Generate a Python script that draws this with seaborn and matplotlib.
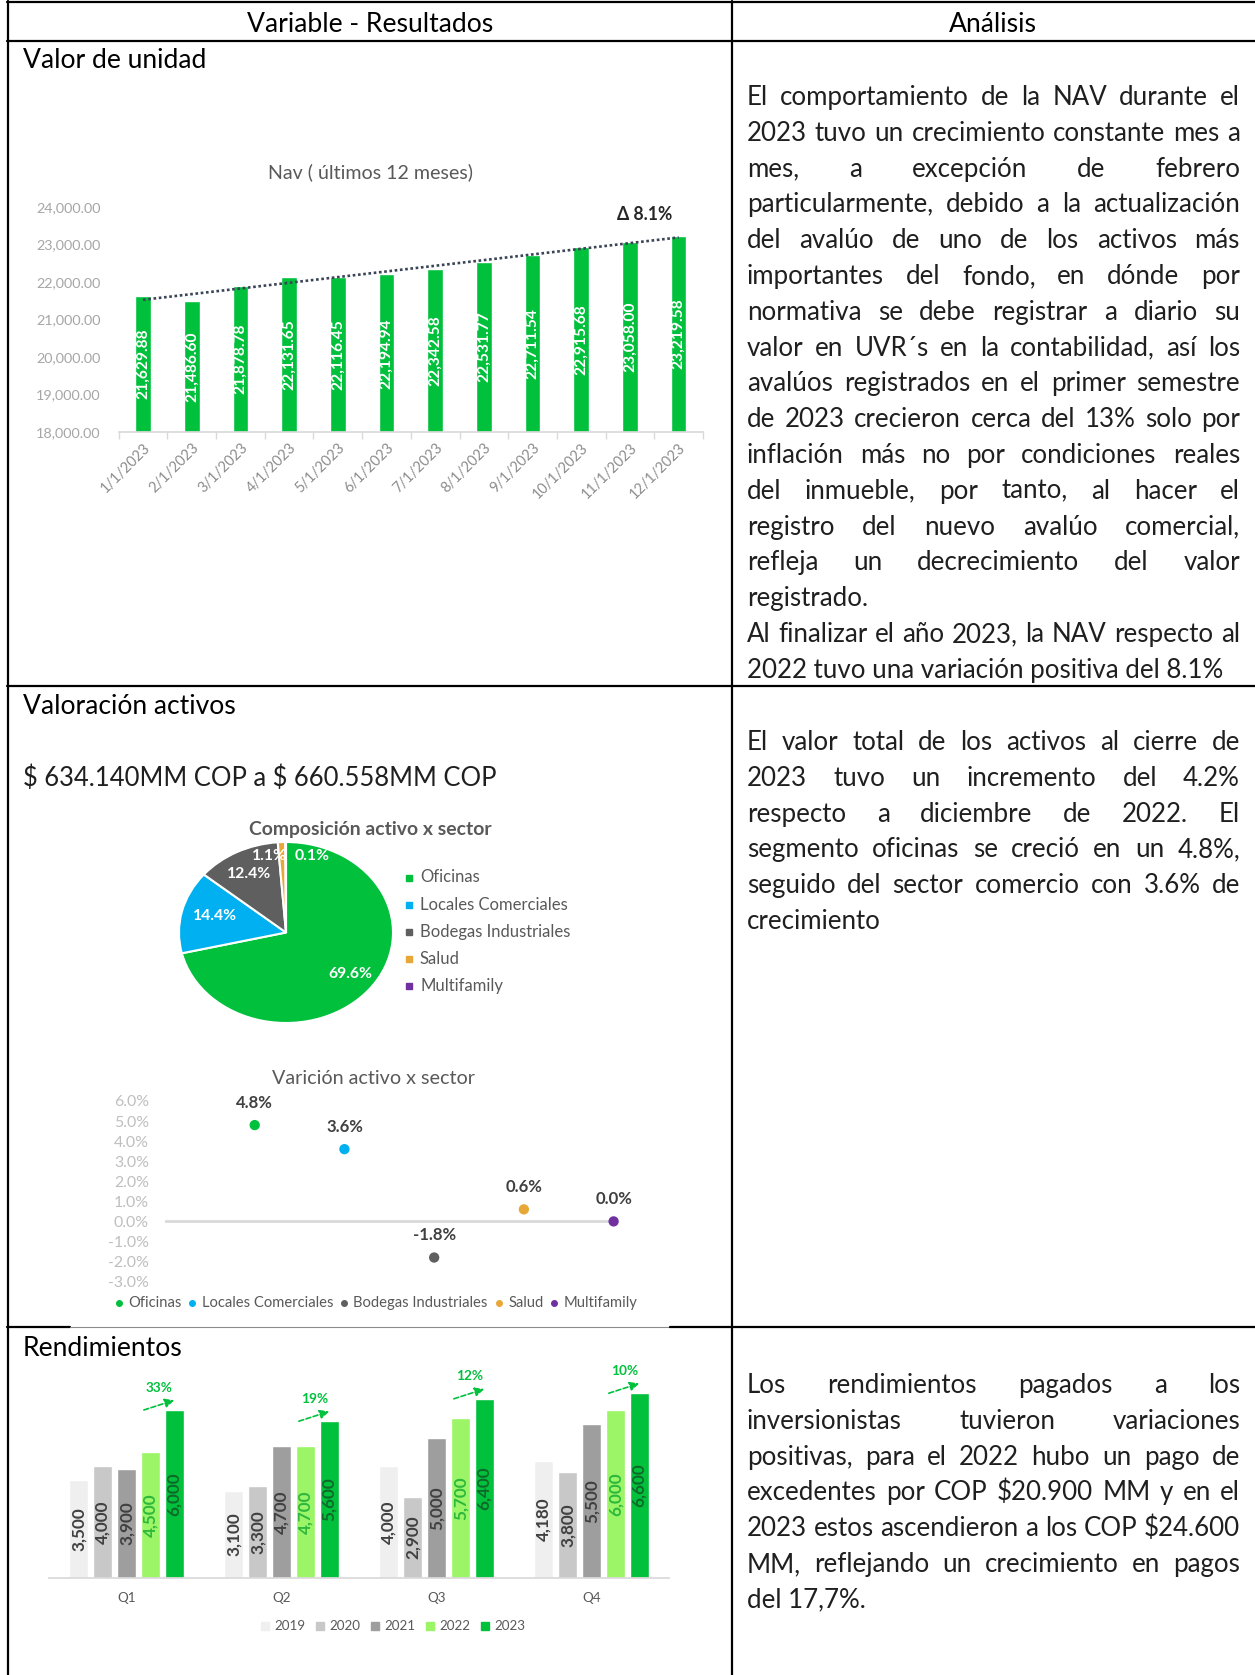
import numpy as np
import pandas as pd
import seaborn as sns
import matplotlib.pyplot as plt
from matplotlib.lines import Line2D

W, H = 1255, 1675

# ---------------- data ----------------
nav_dates = ['1/1/2023', '2/1/2023', '3/1/2023', '4/1/2023', '5/1/2023', '6/1/2023',
             '7/1/2023', '8/1/2023', '9/1/2023', '10/1/2023', '11/1/2023', '12/1/2023']
nav_values = [21629.88, 21486.60, 21878.78, 22131.65, 22116.45, 22194.94,
              22342.58, 22531.77, 22711.54, 22915.68, 23058.00, 23219.58]
nav_change = 8.1

sectors = ['Oficinas', 'Locales Comerciales', 'Bodegas Industriales', 'Salud', 'Multifamily']
sector_share = [69.6, 14.4, 12.4, 1.1, 0.1]
sector_change = [4.8, 3.6, -1.8, 0.6, 0.0]

quarters = ['Q1', 'Q2', 'Q3', 'Q4']
years = ['2019', '2020', '2021', '2022', '2023']
rend_2019 = [3500, 3100, 4000, 4180]
rend_2020 = [4000, 3300, 2900, 3800]
rend_2021 = [3900, 4700, 5000, 5500]
rend_2022 = [4500, 4700, 5700, 6000]
rend_2023 = [6000, 5600, 6400, 6600]

text_nav = [
    'El comportamiento de la NAV durante el',
    '2023 tuvo un crecimiento constante mes a',
    'mes, a excepción de febrero',
    'particularmente, debido a la actualización',
    'del avalúo de uno de los activos más',
    'importantes del fondo, en dónde por',
    'normativa se debe registrar a diario su',
    'valor en UVR´s en la contabilidad, así los',
    'avalúos registrados en el primer semestre',
    'de 2023 crecieron cerca del 13% solo por',
    'inflación más no por condiciones reales',
    'del inmueble, por tanto, al hacer el',
    'registro del nuevo avalúo comercial,',
    'refleja un decrecimiento del valor',
    'registrado.',
    'Al finalizar el año 2023, la NAV respecto al',
    '2022 tuvo una variación positiva del 8.1%',
]
nav_ends = {14, 16}
text_activos = [
    'El valor total de los activos al cierre de',
    '2023 tuvo un incremento del 4.2%',
    'respecto a diciembre de 2022. El',
    'segmento oficinas se creció en un 4.8%,',
    'seguido del sector comercio con 3.6% de',
    'crecimiento',
]
activos_ends = {5}
text_rend = [
    'Los rendimientos pagados a los',
    'inversionistas tuvieron variaciones',
    'positivas, para el 2022 hubo un pago de',
    'excedentes por COP $20.900 MM y en el',
    '2023 estos ascendieron a los COP $24.600',
    'MM, reflejando un crecimiento en pagos',
    'del 17,7%.',
]
rend_ends = {6}

# ---------------- style ----------------
GREEN = '#00C03C'
sector_colors = [GREEN, '#00B0F0', '#5F5F5F', '#E8A838', '#7030A0']
year_colors = ['#EFEFEF', '#C8C8C8', '#9E9E9E', '#9BF567', GREEN]
year_label_colors = ['#404040', '#404040', '#404040', '#2DB83D', '#0E6B2A']
DARK = '#595959'
BODY = '#1F1F1F'

sns.set_theme(style='white')
plt.rcParams['font.family'] = ['Lato', 'DejaVu Sans']
plt.rcParams['text.parse_math'] = False

fig = plt.figure(figsize=(W / 100, H / 100), dpi=100)
renderer = fig.canvas.get_renderer()


def fx(x):
    return x / W


def fy(y):
    return 1 - y / H


def add_ax(x0, y0, x1, y1):
    return fig.add_axes([x0 / W, 1 - y1 / H, (x1 - x0) / W, (y1 - y0) / H])


def tw(s, size, weight='normal'):
    t = fig.text(0, 0, s, fontsize=size, fontweight=weight)
    w = t.get_window_extent(renderer).width
    t.remove()
    return w


def fit(s, target, weight='normal'):
    return 20 * target / tw(s, 20, weight)


def hline(y, x0, x1, color='black', lw=1.6):
    fig.add_artist(Line2D([fx(x0), fx(x1)], [fy(y), fy(y)], color=color, lw=lw))


def vline(x, y0, y1, lw=1.6):
    fig.add_artist(Line2D([fx(x), fx(x)], [fy(y0), fy(y1)], color='black', lw=lw))


def legend_row(labels, colors, x, y, size, marker, ms, gap_text, gap_item):
    for lab, c in zip(labels, colors):
        fig.add_artist(Line2D([fx(x)], [fy(y)], marker=marker, ms=ms, color=c, ls='none'))
        fig.text(fx(x + gap_text), fy(y), lab, fontsize=size, color=DARK, va='center')
        x += gap_text + tw(lab, size) + gap_item


# ---------------- table frame ----------------
hline(2, 7, W)
hline(40.5, 7, W)
hline(686, 7, W)
hline(1327, 7, 70)
hline(1327, 70, 670, color='#8C8C8C', lw=0.8)
hline(1327, 670, W)
vline(8, 1, H)
vline(731.5, 1, H)

titles = ['Variable - Resultados', 'Análisis', 'Valor de unidad', 'Valoración activos', 'Rendimientos']
title_w = [246, 86.5, 184, 213.5, 162]
fs_title = np.mean([fit(t, w) for t, w in zip(titles, title_w)])
fig.text(fx(370), fy(31.5), 'Variable - Resultados', fontsize=fs_title, ha='center', va='baseline', color='black')
fig.text(fx(993), fy(31.5), 'Análisis', fontsize=fs_title, ha='center', va='baseline', color='black')
fig.text(fx(23), fy(68), 'Valor de unidad', fontsize=fs_title, va='baseline', color='black')
fig.text(fx(23), fy(714), 'Valoración activos', fontsize=fs_title, va='baseline', color='black')
fig.text(fx(23), fy(1356), 'Rendimientos', fontsize=fs_title, va='baseline', color='black')
money = '$ 634.140MM COP a $ 660.558MM COP'
fig.text(fx(23), fy(786), money, fontsize=fit(money, 473), va='baseline', color=BODY)

# ---------------- justified analysis text ----------------
TX0, TX1 = 747, 1240
LINE_H = 35.8
fs_body = min(fit(l, TX1 - TX0) for l in text_nav + text_activos + text_rend)


def paragraph(lines, ends, y0):
    for i, line in enumerate(lines):
        y = fy(y0 + i * LINE_H)
        if i in ends:
            fig.text(fx(TX0), y, line, fontsize=fs_body, color=BODY, va='baseline')
            continue
        words = line.split()
        widths = [tw(w, fs_body) for w in words]
        gap = (TX1 - TX0 - sum(widths)) / (len(words) - 1)
        x = TX0
        for w, wd in zip(words, widths):
            fig.text(fx(x), y, w, fontsize=fs_body, color=BODY, va='baseline')
            x += wd + gap


paragraph(text_nav, nav_ends, 105)
paragraph(text_activos, activos_ends, 750)
paragraph(text_rend, rend_ends, 1393)

# ---------------- NAV bar chart ----------------
ax1 = add_ax(118.7, 206.7, 703, 432)
sns.barplot(x=nav_dates, y=nav_values, color=GREEN, width=0.32, saturation=1, ax=ax1)
idx = np.arange(len(nav_values))
coef = np.polyfit(idx, nav_values, 1)
ax1.plot(idx, np.polyval(coef, idx), ls=(0, (1, 1.0)), color='#3A4456', lw=1.9)
ax1.bar_label(ax1.containers[0], labels=[f'{v:,.2f}' for v in nav_values], label_type='center',
              rotation=90, color='white', fontweight='bold', fontsize=fit('21,629.88', 70, 'bold'))
ax1.set_ylim(18000, 24000)
ax1.set_xlim(-0.5, len(nav_values) - 0.5)
yt = np.arange(18000, 24001, 1000)
ax1.set_yticks(yt)
ax1.set_yticklabels([f'{v:,.2f}' for v in yt])
ax1.set_xticks(idx)
ax1.set_xticklabels(nav_dates, rotation=45, ha='right', rotation_mode='anchor')
ax1.set_xticks(np.arange(-0.5, len(nav_values)), minor=True)
ax1.tick_params(axis='y', length=0, pad=13, labelcolor='#A6A6A6', labelsize=fit('24,000.00', 65))
ax1.tick_params(axis='x', which='major', length=0, pad=6, labelcolor='#8C8C8C',
                labelsize=fit('10/1/2023', 72))
ax1.tick_params(axis='x', which='minor', length=5, width=1, color='#D9D9D9', bottom=True)
for s in ['left', 'right', 'top']:
    ax1.spines[s].set_visible(False)
ax1.spines['bottom'].set_color('#D9D9D9')
ax1.set_xlabel('')
ax1.set_ylabel('')
ax1.patch.set_alpha(0)
fig.text(fx(371), fy(172), 'Nav ( últimos 12 meses)', fontsize=fit('Nav ( últimos 12 meses)', 205),
         ha='center', va='center', color=DARK)
delta = f'Δ {nav_change}%'
fig.text(fx(645), fy(215), delta, fontsize=fit(delta, 56, 'bold'), fontweight='bold',
         ha='center', va='center', color='#262626')

# ---------------- pie ----------------
ax2 = add_ax(179, 842, 393, 1023)
wedges, _ = ax2.pie(sector_share, colors=sector_colors, startangle=90, counterclock=False,
                    wedgeprops=dict(edgecolor='white', linewidth=1.5))
ax2.set_aspect('auto')
ax2.set_xlim(-1, 1)
ax2.set_ylim(-1, 1)
lab_r = [0.76, 0.69, 0.73, 0.86, 0.88]
lab_shift = [1, -2, 1, 8, -16]
fs_pie = fit('69.6%', 44, 'bold')
for w, v, r, sh in zip(wedges, sector_share, lab_r, lab_shift):
    a = np.deg2rad((w.theta1 + w.theta2) / 2 + sh)
    ax2.text(r * np.cos(a), r * np.sin(a), f'{v:.1f}%', ha='center', va='center',
             color='white', fontweight='bold', fontsize=fs_pie)
pt = 'Composición activo x sector'
fig.text(fx(370), fy(830), pt, fontsize=fit(pt, 242, 'bold'), fontweight='bold',
         ha='center', va='center', color=DARK)
fs_pleg = fit('Bodegas Industriales', 151)
for i, (lab, c) in enumerate(zip(sectors, sector_colors)):
    y = 877.5 + i * 27.2
    fig.add_artist(Line2D([fx(409.5)], [fy(y)], marker='s', ms=4.5, color=c, ls='none'))
    fig.text(fx(420), fy(y), lab, fontsize=fs_pleg, color=DARK, va='center')

# ---------------- scatter ----------------
ax3 = add_ax(165, 1101, 613.6, 1281.6)
xs = np.arange(1, len(sectors) + 1)
ax3.axhline(0, color='#D9D9D9', lw=2, zorder=0)
sns.scatterplot(x=xs, y=sector_change, hue=sectors, palette=sector_colors, s=55, linewidth=0,
                legend=False, clip_on=False, zorder=3, ax=ax3)
ax3.set_xlim(0, len(sectors))
ax3.set_ylim(-3, 6)
yt3 = np.arange(-3, 7)
ax3.set_yticks(yt3)
ax3.set_yticklabels([f'{v:.1f}%' for v in yt3])
ax3.set_xticks([])
ax3.tick_params(axis='y', length=0, pad=11.5, labelcolor='#BFBFBF', labelsize=fit('6.0%', 35))
for s in ax3.spines.values():
    s.set_visible(False)
ax3.patch.set_alpha(0)
fs_slab = fit('4.8%', 37, 'bold')
for x, v in zip(xs, sector_change):
    ax3.annotate(f'{v:.1f}%', (x, v), xytext=(0, 16), textcoords='offset points', ha='center',
                 va='center', fontweight='bold', fontsize=fs_slab, color='#404040')
st = 'Varición activo x sector'
fig.text(fx(373.5), fy(1079), st, fontsize=fit(st, 203), ha='center', va='center', color=DARK)
legend_row(sectors, sector_colors, 118.7, 1303, fit('Bodegas Industriales', 134), 'o', 4, 9.3, 11)

# ---------------- rendimientos ----------------
rend = pd.DataFrame({
    'quarter': quarters * len(years),
    'year': np.repeat(years, len(quarters)),
    'value': rend_2019 + rend_2020 + rend_2021 + rend_2022 + rend_2023,
})
ax4 = add_ax(49, 1354, 669, 1578)
sns.barplot(data=rend, x='quarter', y='value', hue='year', palette=year_colors, width=0.77, gap=0.22,
            saturation=1, legend=False, ax=ax4)
ax4.set_ylim(0, 8000)
fs_blab = fit('3,500', 44, 'bold')
for cont, col in zip(ax4.containers, year_label_colors):
    ax4.bar_label(cont, labels=[f'{p.get_height():,.0f}' for p in cont], label_type='center',
                  rotation=90, color=col, fontweight='bold', fontsize=fs_blab)
fs_pct = fit('33%', 27, 'bold')
for i in range(len(quarters)):
    p22 = ax4.containers[3][i]
    p23 = ax4.containers[4][i]
    x22 = p22.get_x() + p22.get_width() / 2
    x23 = p23.get_x() + p23.get_width() / 2
    v23 = rend_2023[i]
    pct = round((v23 / rend_2022[i] - 1) * 100)
    ax4.annotate('', xy=(x23, v23 + 350), xytext=(x22 - 0.35 * p22.get_width(), v23),
                 arrowprops=dict(arrowstyle='-|>,head_width=0.22,head_length=0.45', color=GREEN,
                                 lw=1.2, linestyle=(0, (3, 1.5)), shrinkA=0, shrinkB=0))
    ax4.text((x22 + x23) / 2 - 0.02, v23 + 800, f'{pct}%', ha='center', va='center',
             color=GREEN, fontweight='bold', fontsize=fs_pct)
ax4.set_yticks([])
ax4.tick_params(axis='x', length=0, pad=10, labelcolor=DARK, labelsize=fit('Q1', 18.6))
for s in ['left', 'right', 'top']:
    ax4.spines[s].set_visible(False)
ax4.spines['bottom'].set_color('#D9D9D9')
ax4.set_xlabel('')
ax4.set_ylabel('')
ax4.patch.set_alpha(0)
legend_row(years, year_colors, 265, 1626, fit('2019', 31), 's', 5.5, 9, 15)

fig.savefig('out.png', dpi=100, facecolor='white')
